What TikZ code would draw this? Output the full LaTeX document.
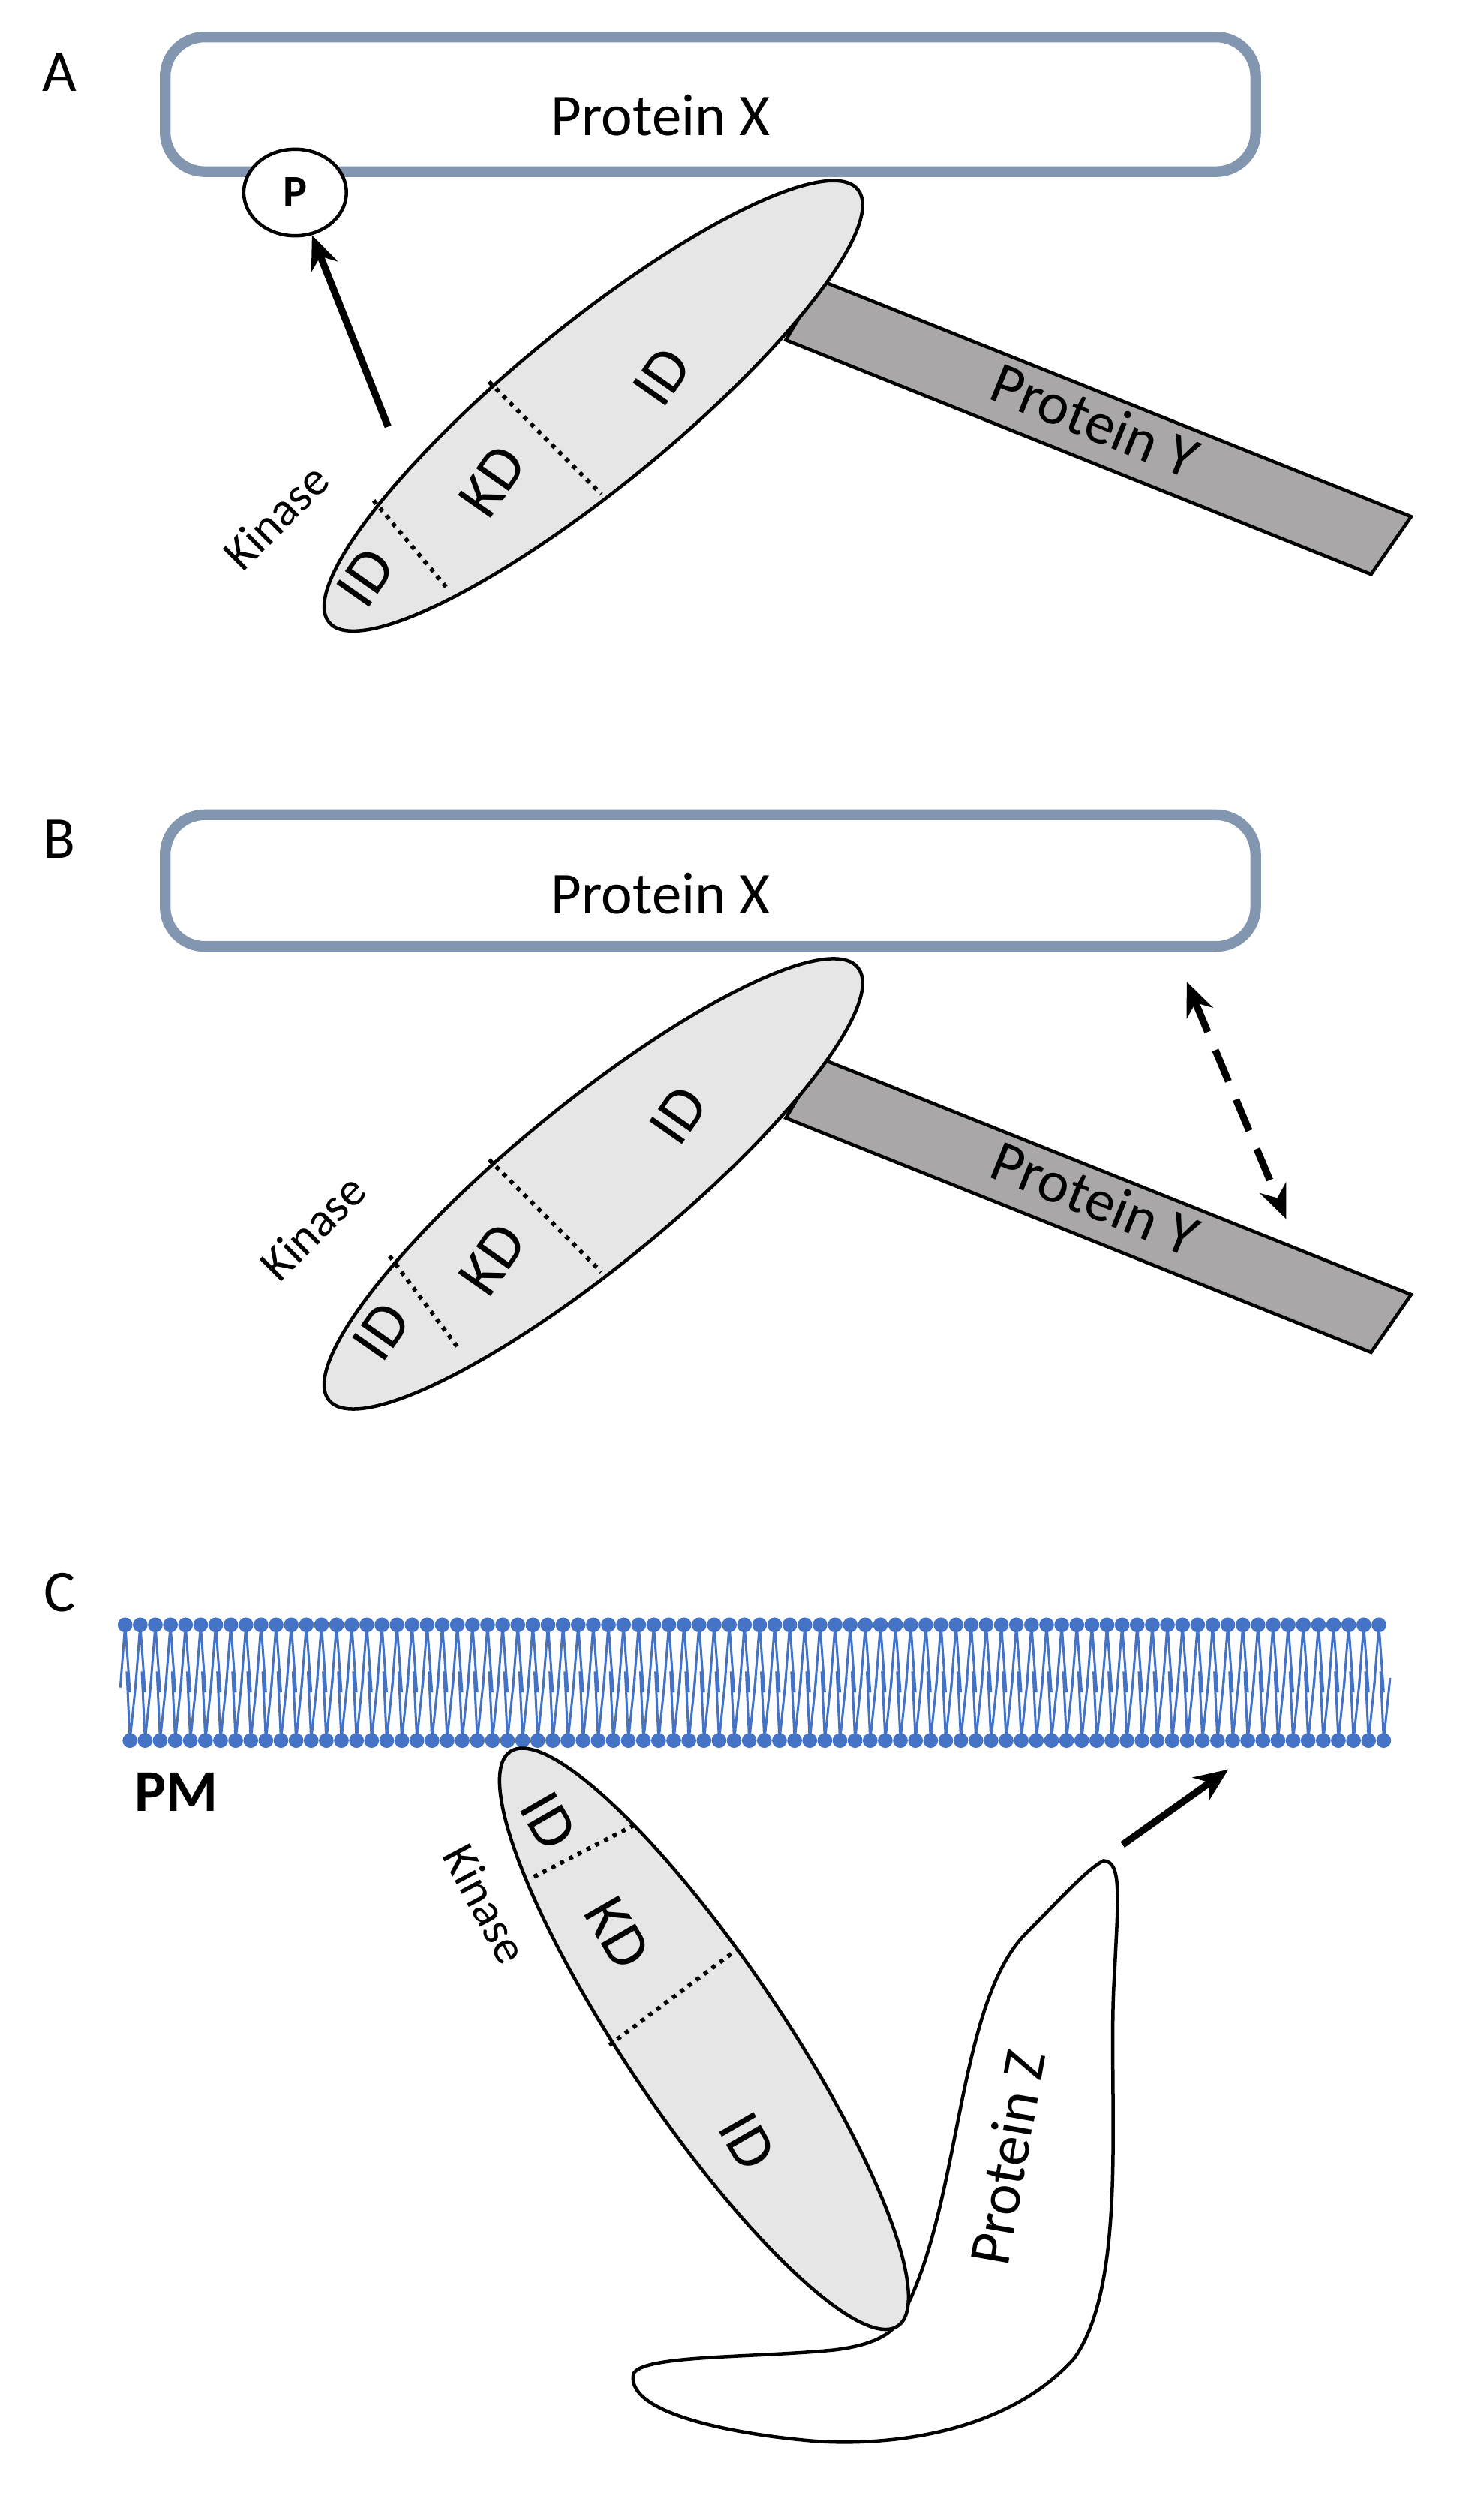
\documentclass[tikz,border=0pt]{standalone}
\usepackage{fontspec}
\setmainfont{Carlito}
\usetikzlibrary{arrows.meta,shapes.geometric}
\definecolor{boxc}{HTML}{8396B0}
\definecolor{kin}{HTML}{E6E6E6}
\definecolor{pyc}{HTML}{A9A7A7}
\definecolor{mem}{HTML}{4472C4}
\tikzset{
 pbox/.style={draw=boxc,line width=3.8pt,rounded corners=14pt},
 lbl/.style={font=\fontsize{21}{23}\selectfont},
 dom/.style={font=\fontsize{22}{24}\selectfont},
 klbl/.style={font=\fontsize{17}{19}\selectfont},
 kin/.style={draw=black,line width=1.2pt,fill=kin},
 div/.style={line width=1.5pt,dotted},
 py/.style={draw=black,line width=1.2pt,fill=pyc},
 arr/.style={line width=2.5pt,-{Stealth[length=12pt,width=10pt]}},
}
\begin{document}
\begin{tikzpicture}[x=0.02cm,y=0.02cm]
\useasboundingbox (0,0) rectangle (910,-1571);
% ---------- Panel A ----------
\node[lbl] (la) at (37,-45) {A};
\draw[pbox] (103,-23) rectangle (783,-107);
\node[lbl] (xa) at (412,-72) {Protein X};
\draw[py] (512,-175) -- (880,-322) -- (855,-358) -- (490,-212) -- cycle;
\node[lbl,rotate=-22] (ya) at (683,-262) {Protein Y};
\draw[kin,rotate around={39.3:(370,-253)}] (370,-253) ellipse (213 and 50);
\draw[div] (233,-312) -- (280,-368);
\draw[div] (305,-238) -- (375,-308);
\node[dom,rotate=55] (ida1) at (228,-360) {ID};
\node[dom,rotate=55] (kda) at (307,-300) {KD};
\node[dom,rotate=55] (ida2) at (413,-235) {ID};
\node[klbl,rotate=45] (kna) at (172,-322) {Kinase};
\node[draw,ellipse,line width=1.2pt,fill=white,inner sep=0pt,font=\bfseries\fontsize{16}{18}\selectfont,minimum width=1.28cm,minimum height=1.08cm] (p) at (184,-120) {P};
\coordinate (pa) at (242,-266);
\draw[arr] (pa) -- (p);
% ---------- Panel B ----------
\begin{scope}[yshift=-485*0.02cm]
\node[lbl] (lb) at (37,-38) {B};
\draw[pbox] (103,-23) rectangle (783,-105);
\node[lbl] (xb) at (412,-72) {Protein X};
\draw[py] (512,-175) -- (880,-322) -- (855,-358) -- (490,-212) -- cycle;
\node[lbl,rotate=-22] (yb) at (683,-262) {Protein Y};
\draw[kin,rotate around={39.3:(370,-253)}] (370,-253) ellipse (213 and 50);
\draw[div] (243,-298) -- (287,-357);
\draw[div] (305,-238) -- (375,-308);
\node[dom,rotate=55] (idb1) at (238,-345) {ID};
\node[dom,rotate=55] (kdb) at (307,-300) {KD};
\node[dom,rotate=55] (idb2) at (423,-210) {ID};
\node[klbl,rotate=45] (knb) at (195,-280) {Kinase};
\coordinate (b1) at (740,-127);
\coordinate (b2) at (802,-275);
\draw[line width=2.5pt,dash pattern=on 12pt off 7pt,{Stealth[length=12pt,width=10pt]}-{Stealth[length=12pt,width=10pt]}] (b1) -- (b2);
\end{scope}
% ---------- Panel C ----------
\node[lbl] (lc) at (37,-993) {C};
\foreach \i in {0,...,83}{
  \pgfmathsetmacro{\xx}{78+\i*9.42}
  \draw[mem,line width=0.8pt] (\xx,-1013) -- (\xx-3,-1052) (\xx,-1013) -- (\xx+3,-1055)
     (\xx+3,-1085) -- (\xx+1,-1042) (\xx+3,-1085) -- (\xx+7,-1046);
}
\foreach \i in {0,...,83}{
  \pgfmathsetmacro{\xx}{78+\i*9.42}
  \fill[mem] (\xx,-1013) circle (4.6);
  \fill[mem] (\xx+3,-1085) circle (4.6);
}
\node[font=\bfseries\fontsize{21}{23}\selectfont] (pm) at (110,-1117) {PM};
% Protein Z
\draw[line width=1.2pt,fill=white] (560,-1448)
  .. controls (600,-1380) and (595,-1250) .. (640,-1205)
  .. controls (660,-1185) and (678,-1165) .. (688,-1160)
  .. controls (700,-1160) and (697,-1185) .. (695,-1230)
  .. controls (690,-1300) and (705,-1420) .. (670,-1470)
  .. controls (630,-1515) and (560,-1525) .. (510,-1522)
  .. controls (460,-1518) and (390,-1505) .. (395,-1480)
  .. controls (400,-1468) and (470,-1470) .. (520,-1465)
  .. controls (545,-1462) and (555,-1455) .. (560,-1448) -- cycle;
\node[lbl,rotate=80] (z) at (628,-1345) {Protein Z};
\draw[kin,rotate around={-56:(439,-1271)}] (439,-1271) ellipse (216 and 49);
\draw[div] (333,-1170) -- (397,-1137);
\draw[div] (380,-1275) -- (460,-1215);
\node[dom,rotate=-60] (idc1) at (342,-1135) {ID};
\node[dom,rotate=-60] (kdc) at (385,-1205) {KD};
\node[dom,rotate=-60] (idc2) at (466,-1335) {ID};
\node[klbl,rotate=-62] (knc) at (303,-1187) {Kinase};
\coordinate (c1) at (700,-1150);
\coordinate (c2) at (766,-1103);
\draw[arr] (c1) -- (c2);
\end{tikzpicture}
\end{document}
